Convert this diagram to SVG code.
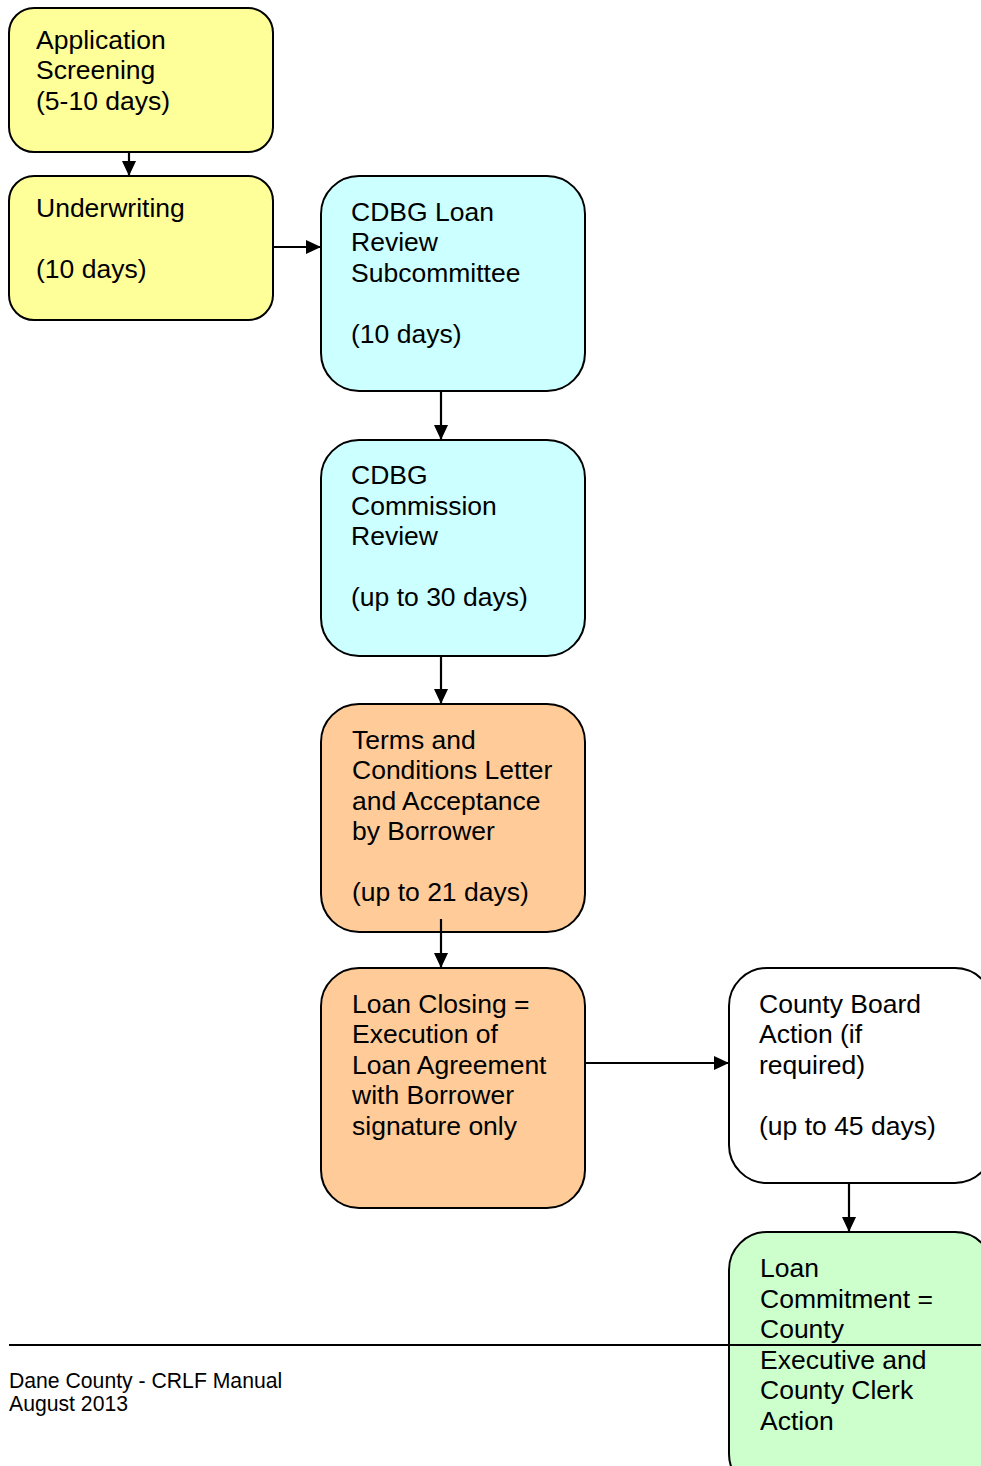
<svg xmlns="http://www.w3.org/2000/svg" width="981" height="1466" viewBox="0 0 981 1466">
<style>
.box{stroke:#000;stroke-width:2}
.y{fill:#FFFF99}.c{fill:#CCFFFF}.o{fill:#FFCC99}.w{fill:#FFFFFF}.g{fill:#CCFFCC}
text{font-family:"Liberation Sans",Arial,sans-serif;font-size:26.5px;fill:#000}
.ft{font-size:21.2px}
.conn line{stroke:#000;stroke-width:2.2;fill:none}
</style>
<defs>
<marker id="ah" markerWidth="15" markerHeight="14" refX="14" refY="7" orient="auto" markerUnits="userSpaceOnUse">
<path d="M0,0 L15,7 L0,14 Z" fill="#000"/>
</marker>
</defs>
<rect width="981" height="1466" fill="#fff"/>
<g id="n1"><rect class="box y" x="9" y="8" width="264" height="144" rx="25"/>
<text x="36" y="48.5">Application</text><text x="36" y="79">Screening</text><text x="36" y="109.5">(5-10 days)</text></g>
<g id="n2"><rect class="box y" x="9" y="176" width="264" height="144" rx="25"/>
<text x="36" y="216.5">Underwriting</text><text x="36" y="277.5">(10 days)</text></g>
<g id="n3"><rect class="box c" x="321" y="176" width="264" height="215" rx="38"/>
<text x="351" y="220.5">CDBG Loan</text><text x="351" y="251">Review</text><text x="351" y="281.5">Subcommittee</text><text x="351" y="342.5">(10 days)</text></g>
<g id="n4"><rect class="box c" x="321" y="440" width="264" height="216" rx="38"/>
<text x="351" y="484">CDBG</text><text x="351" y="514.5">Commission</text><text x="351" y="545">Review</text><text x="351" y="606">(up to 30 days)</text></g>
<g id="n5"><rect class="box o" x="321" y="704" width="264" height="228" rx="38"/>
<text x="352" y="748.5">Terms and</text><text x="352" y="779">Conditions Letter</text><text x="352" y="809.5">and Acceptance</text><text x="352" y="840">by Borrower</text><text x="352" y="901">(up to 21 days)</text></g>
<g id="n6"><rect class="box o" x="321" y="968" width="264" height="240" rx="38"/>
<text x="352" y="1012.5">Loan Closing =</text><text x="352" y="1043">Execution of</text><text x="352" y="1073.5">Loan Agreement</text><text x="352" y="1104">with Borrower</text><text x="352" y="1134.5">signature only</text></g>
<g id="n7"><rect class="box w" x="729" y="968" width="264" height="215" rx="38"/>
<text x="759" y="1012.5">County Board</text><text x="759" y="1043">Action (if</text><text x="759" y="1073.5">required)</text><text x="759" y="1134.5">(up to 45 days)</text></g>
<g id="n8"><rect class="box g" x="729" y="1232" width="264" height="260" rx="38"/>
<text x="760" y="1277">Loan</text><text x="760" y="1307.5">Commitment =</text><text x="760" y="1338">County</text><text x="760" y="1368.5">Executive and</text><text x="760" y="1399">County Clerk</text><text x="760" y="1429.5">Action</text></g>
<g id="connectors" class="conn">
<line x1="129" y1="152" x2="129" y2="175" marker-end="url(#ah)"/>
<line x1="273" y1="247" x2="320" y2="247" marker-end="url(#ah)"/>
<line x1="441" y1="391" x2="441" y2="439" marker-end="url(#ah)"/>
<line x1="441" y1="656" x2="441" y2="703" marker-end="url(#ah)"/>
<line x1="441" y1="919" x2="441" y2="967" marker-end="url(#ah)"/>
<line x1="585" y1="1063" x2="728" y2="1063" marker-end="url(#ah)"/>
<line x1="849" y1="1183" x2="849" y2="1231" marker-end="url(#ah)"/>
</g>
<g id="footer">
<line x1="9" y1="1345" x2="981" y2="1345" stroke="#000" stroke-width="2"/>
<text class="ft" x="9" y="1387.5">Dane County - CRLF Manual</text>
<text class="ft" x="9" y="1410.5">August 2013</text>
</g>
</svg>
